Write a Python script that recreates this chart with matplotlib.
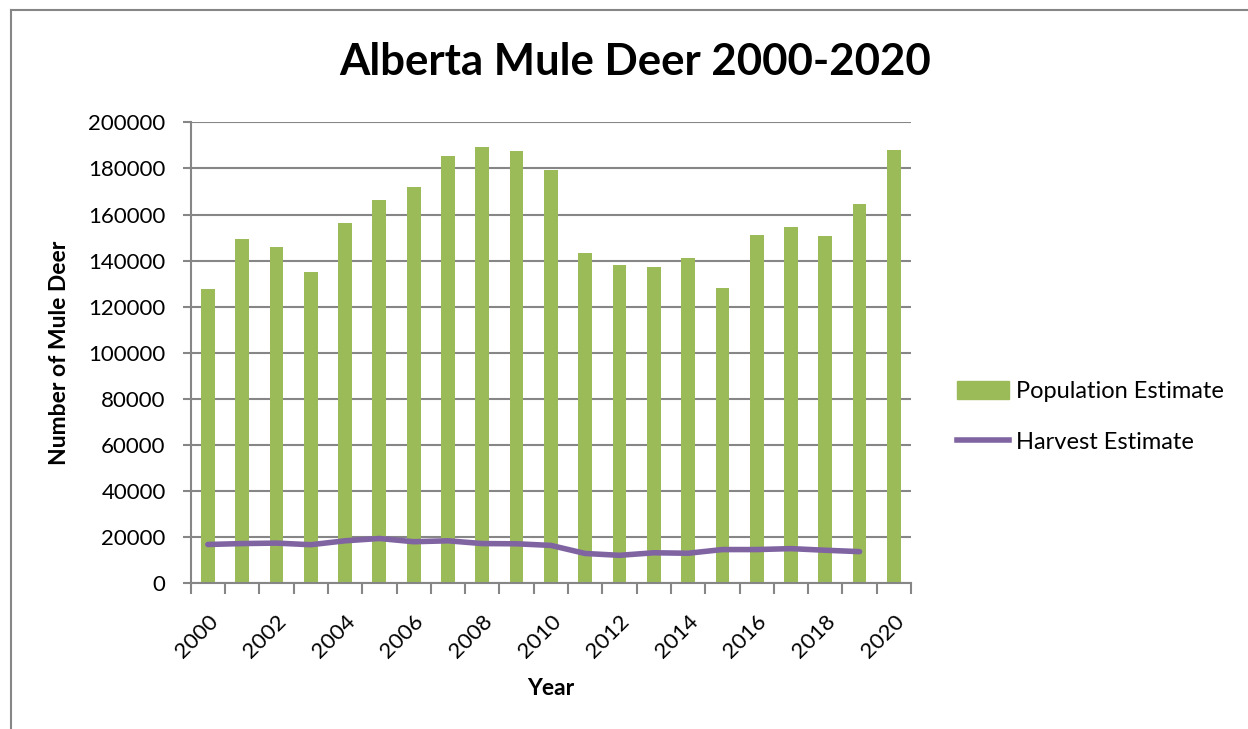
import matplotlib
matplotlib.use("Agg")
import matplotlib.pyplot as plt
import matplotlib.transforms as mtransforms
from matplotlib.lines import Line2D
from matplotlib.patches import Patch

plt.rcParams['font.family'] = ['Lato', 'DejaVu Sans']

years = list(range(2000, 2021))
population = [127500, 149400, 145900, 135000, 156300, 166300, 171900, 185500,
              189400, 187400, 179200, 143200, 138000, 137200, 141100, 128200,
              151100, 154700, 150500, 164400, 187900]
# no harvest number for 2020
harvest_years = list(range(2000, 2020))
harvest = [16800, 17200, 17400, 16700, 18400, 19400, 18000, 18400, 17200, 17100,
           16400, 12900, 12100, 13200, 13000, 14600, 14600, 15000, 14300, 13700]
yticks = list(range(0, 200001, 20000))

green = '#9BBB59'
purple = '#8064A2'
grid_col = '#868686'

fig = plt.figure(figsize=(12.48, 7.29), dpi=100)
ax = fig.add_axes([0.1528, 0.2, 0.5772, 0.6322])

x = [y - 2000 for y in years]
hx = [y - 2000 for y in harvest_years]
ax.bar(x, population, width=0.4, color=green, zorder=2, label='Population Estimate')
ax.plot(hx, harvest, color=purple, lw=4, solid_joinstyle='round',
        solid_capstyle='round', zorder=3, label='Harvest Estimate')

ax.set_xlim(-0.5, len(years) - 0.5)
ax.set_ylim(0, 200000)
ax.set_yticks(yticks)
ax.set_yticklabels([str(v) for v in yticks], fontsize=16)
ax.yaxis.grid(True, color=grid_col, lw=1.5, zorder=0)

ax.set_xticks(x[::2])
ax.set_xticklabels([str(y) for y in years[::2]], rotation=45, ha='right',
                   rotation_mode='anchor', fontsize=16)
shift = mtransforms.ScaledTranslation(6 / 72, 0, fig.dpi_scale_trans)
for lbl in ax.get_xticklabels():
    lbl.set_transform(lbl.get_transform() + shift)
ax.set_xticks([i - 0.5 for i in range(len(years) + 1)], minor=True)
ax.tick_params(axis='x', which='major', length=0, pad=20)
ax.tick_params(axis='x', which='minor', length=8, color=grid_col, width=1.5)
ax.tick_params(axis='y', length=6, color=grid_col, width=1.5, pad=12)

for side in ['top', 'right']:
    ax.spines[side].set_visible(False)
for side in ['left', 'bottom']:
    ax.spines[side].set_color(grid_col)
    ax.spines[side].set_linewidth(1.5)

ax.set_ylabel('Number of Mule Deer', fontsize=16.5, fontweight='bold', labelpad=13)
ax.set_xlabel('Year', fontsize=16.5, fontweight='bold', labelpad=12)

fig.text(0.509, 0.915, 'Alberta Mule Deer 2000-2020', ha='center', va='center',
         fontsize=31.5, fontweight='bold')

handles = [Patch(color=green), Line2D([], [], color=purple, lw=4)]
fig.legend(handles, ['Population Estimate', 'Harvest Estimate'],
           loc='center left', bbox_to_anchor=(0.750, 0.428), frameon=False,
           fontsize=17, handlelength=2.2, handleheight=0.8, labelspacing=1.25,
           handletextpad=0.3)

# chart area border (top and left visible)
fig.add_artist(Line2D([11 / 1248, 11 / 1248], [0, 1 - 10 / 729], color=grid_col, lw=1.5))
fig.add_artist(Line2D([11 / 1248, 1], [1 - 10 / 729, 1 - 10 / 729], color=grid_col, lw=1.5))

fig.savefig('out.png', dpi=100, facecolor='white')
